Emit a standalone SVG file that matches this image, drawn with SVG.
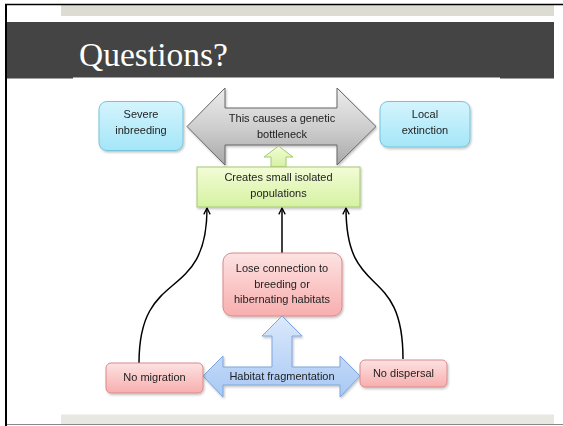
<svg xmlns="http://www.w3.org/2000/svg" width="563" height="426" viewBox="0 0 563 426">
<defs>
<linearGradient id="gBlue" x1="0" y1="0" x2="0" y2="1"><stop offset="0" stop-color="#d4f4fd"/><stop offset="1" stop-color="#a4e6f8"/></linearGradient>
<linearGradient id="gGrey" x1="0" y1="0" x2="0" y2="1"><stop offset="0" stop-color="#ececec"/><stop offset="0.5" stop-color="#cfcfcf"/><stop offset="1" stop-color="#a9a9a9"/></linearGradient>
<linearGradient id="gGreen" x1="0" y1="0" x2="0" y2="1"><stop offset="0" stop-color="#f2fcd6"/><stop offset="1" stop-color="#d6f2a2"/></linearGradient>
<linearGradient id="gPink" x1="0" y1="0" x2="0" y2="1"><stop offset="0" stop-color="#fde2e2"/><stop offset="1" stop-color="#f8aeae"/></linearGradient>
<linearGradient id="gHab" x1="0" y1="0" x2="0" y2="1"><stop offset="0" stop-color="#dbe9fc"/><stop offset="1" stop-color="#a8c8f4"/></linearGradient>
<filter id="sh" x="-10%" y="-10%" width="130%" height="140%"><feDropShadow dx="1" dy="1.5" stdDeviation="1.2" flood-color="#000" flood-opacity="0.25"/></filter>
<marker id="arr" viewBox="0 0 10 10" refX="9" refY="5" markerWidth="8" markerHeight="8" markerUnits="userSpaceOnUse" orient="auto"><path d="M1,1 L9,5 L1,9" fill="none" stroke="#000" stroke-width="1.6"/></marker>
</defs>
<style>
.t{font-family:"Liberation Sans",Arial,sans-serif;font-size:11px;fill:#222;text-anchor:middle}
.blue{fill:url(#gBlue);stroke:#76c4dc;stroke-width:1}
.pink{fill:url(#gPink);stroke:#d98a8a;stroke-width:1}
.green{fill:url(#gGreen);stroke:#a6c872;stroke-width:1}
.conn{fill:none;stroke:#000;stroke-width:1.5;marker-end:url(#arr)}
</style>
<rect width="563" height="426" fill="#fff"/>
<!-- slide frame -->
<rect x="61" y="5" width="493" height="11" fill="#dcdcd2"/>
<rect x="6" y="22" width="548" height="56.5" fill="#444444"/>
<rect x="73" y="77.5" width="427" height="2" fill="#fff"/>
<rect x="61" y="414.5" width="493" height="10" fill="#e8e8e2"/>
<line x1="6" y1="424.5" x2="563" y2="424.5" stroke="#888" stroke-width="1.2"/>
<line x1="5" y1="4.5" x2="563" y2="4.5" stroke="#000" stroke-width="1.5"/>
<line x1="6" y1="4" x2="6" y2="426" stroke="#000" stroke-width="2"/>
<text x="79" y="66" font-family="'Liberation Serif','Times New Roman',serif" font-size="33.5" fill="#fff">Questions?</text>

<g id="connectors">
<path class="conn" d="M139,363 C139,265 207,305 207,208"/>
<path class="conn" d="M282,253 L282,208"/>
<path class="conn" d="M403,359 C403,262 346,302 346,208"/>
</g>

<g id="bottleneck" filter="url(#sh)">
<polygon points="187,126.5 225,88 225,108 337,108 337,88 376,126.5 337,165 337,145 225,145 225,165" fill="url(#gGrey)" stroke="#666" stroke-width="1"/>
<text class="t" x="282" y="122">This causes a genetic</text>
<text class="t" x="282" y="138">bottleneck</text>
</g>

<g id="severe" filter="url(#sh)">
<rect class="blue" x="99" y="101.5" width="84" height="49" rx="8"/>
<text class="t" x="141" y="118">Severe</text>
<text class="t" x="141" y="134">inbreeding</text>
</g>

<g id="local" filter="url(#sh)">
<rect class="blue" x="380" y="101.5" width="90" height="45.5" rx="8"/>
<text class="t" x="425" y="118">Local</text>
<text class="t" x="425" y="134">extinction</text>
</g>

<g id="greenarrow">
<polygon class="green" points="278.5,146 293,157 286,157 286,167 271,167 271,157 264,157"/>
</g>

<g id="creates" filter="url(#sh)">
<rect class="green" x="197" y="167" width="163" height="40"/>
<text class="t" x="278.5" y="181">Creates small isolated</text>
<text class="t" x="278.5" y="197">populations</text>
</g>

<g id="lose" filter="url(#sh)">
<rect class="pink" x="223" y="253" width="119" height="63" rx="9"/>
<text class="t" x="282" y="272">Lose connection to</text>
<text class="t" x="282" y="288">breeding or</text>
<text class="t" x="282" y="303">hibernating habitats</text>
</g>

<g id="habitat" filter="url(#sh)">
<polygon points="282,316 302,336 292,336 292,367 340,367 340,356 360,376 340,397 340,385 223,385 223,397 203,376 223,356 223,367 272,367 272,336 262,336" fill="url(#gHab)" stroke="#7ea6dc" stroke-width="1"/>
<text class="t" x="282" y="380">Habitat fragmentation</text>
</g>

<g id="nomigration" filter="url(#sh)">
<rect class="pink" x="106" y="363" width="97" height="30" rx="5"/>
<text class="t" x="154.5" y="381">No migration</text>
</g>

<g id="nodispersal" filter="url(#sh)">
<rect class="pink" x="360" y="360" width="87" height="27" rx="5"/>
<text class="t" x="403.5" y="377">No dispersal</text>
</g>
</svg>
